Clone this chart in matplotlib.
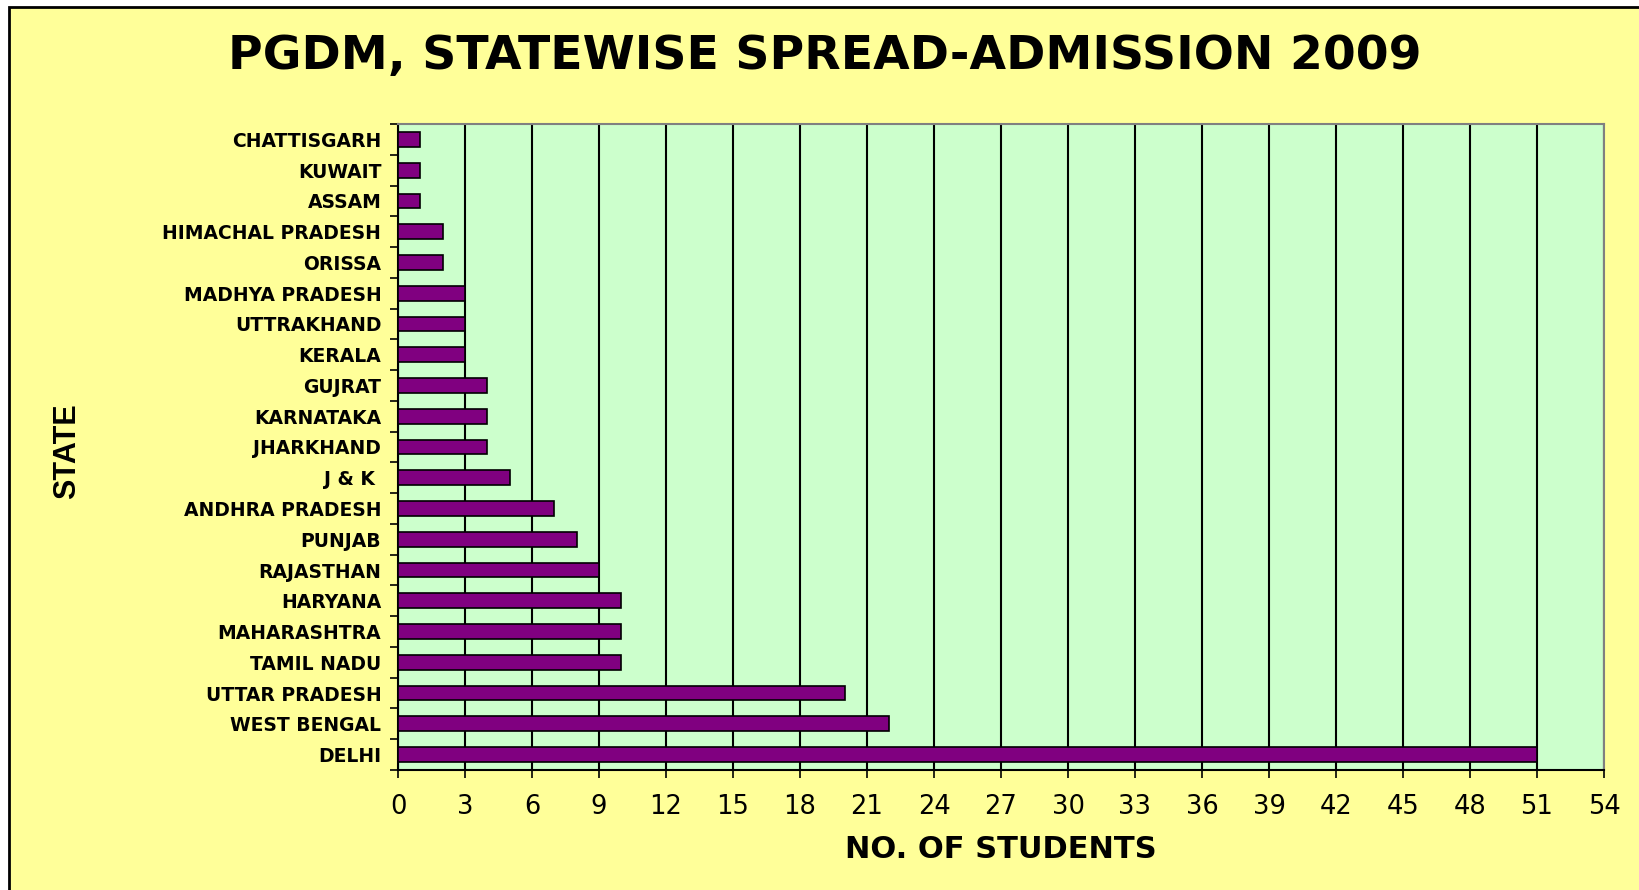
import numpy as np
import matplotlib
matplotlib.use("Agg")
import matplotlib.pyplot as plt
import matplotlib.patches as patches

states = ["CHATTISGARH", "KUWAIT", "ASSAM", "HIMACHAL PRADESH", "ORISSA",
          "MADHYA PRADESH", "UTTRAKHAND", "KERALA", "GUJRAT", "KARNATAKA",
          "JHARKHAND", "J & K ", "ANDHRA PRADESH", "PUNJAB", "RAJASTHAN",
          "HARYANA", "MAHARASHTRA", "TAMIL NADU", "UTTAR PRADESH",
          "WEST BENGAL", "DELHI"]
students = [1, 1, 1, 2, 2, 3, 3, 3, 4, 4, 4, 5, 7, 8, 9, 10, 10, 10, 20, 22, 51]
x_ticks = list(range(0, 55, 3))

plt.rcParams['font.family'] = ['Liberation Sans', 'DejaVu Sans']

fig = plt.figure(figsize=(16.39, 8.90), dpi=100, facecolor='white')

# yellow chart area with black frame (cut off at right / bottom)
frame = patches.Rectangle((9 / 1639, -0.05), 1.1, 1 - 7 / 890 + 0.05,
                          transform=fig.transFigure, facecolor='#FFFF99',
                          edgecolor='black', linewidth=2, zorder=-10)
fig.patches.append(frame)

ax = fig.add_axes([398 / 1639, 1 - 770 / 890, (1604 - 398) / 1639, (770 - 124) / 890])
ax.set_zorder(5)
ax.set_facecolor('#CCFFCC')

y = np.arange(len(states))
ax.barh(y, students, height=0.48, color='#800080', edgecolor='black',
        linewidth=1.2, zorder=3)

ax.set_xlim(0, 54)
ax.set_ylim(len(states) - 0.5, -0.5)
ax.set_xticks(x_ticks)
ax.set_xticklabels([str(t) for t in x_ticks], fontsize=18.5, family=['DejaVu Sans'])
ax.set_yticks(y)
ax.set_yticklabels(states, fontsize=13.5, fontweight='bold',
                   family=['DejaVu Sans'])
ax.set_yticks(np.arange(len(states) + 1) - 0.5, minor=True)

ax.tick_params(axis='y', which='major', length=0, pad=12)
ax.tick_params(axis='y', which='minor', length=6, width=1.2, direction='out')
ax.tick_params(axis='x', which='major', length=6, width=1.2, direction='out', pad=11)

ax.grid(axis='x', color='black', linewidth=1.5, zorder=1)
ax.set_axisbelow(True)
for side in ['left', 'bottom']:
    ax.spines[side].set_color('black')
    ax.spines[side].set_linewidth(1.5)
for side in ['top', 'right']:
    ax.spines[side].set_color('#808080')
    ax.spines[side].set_linewidth(1.5)

ax.set_xlabel("NO. OF STUDENTS", fontsize=22, fontweight='bold', labelpad=11,
              family=['DejaVu Sans'])
fig.text(67 / 1639, 1 - 451 / 890, "STATE", rotation=90, fontsize=22,
         fontweight='bold', ha='center', va='center')

fig.text(825 / 1639, 1 - 57 / 890, "PGDM, STATEWISE SPREAD-ADMISSION 2009",
         fontsize=34, fontweight='bold', family=['DejaVu Sans'],
         ha='center', va='center')

fig.savefig("out.png", dpi=100, facecolor=fig.get_facecolor())
